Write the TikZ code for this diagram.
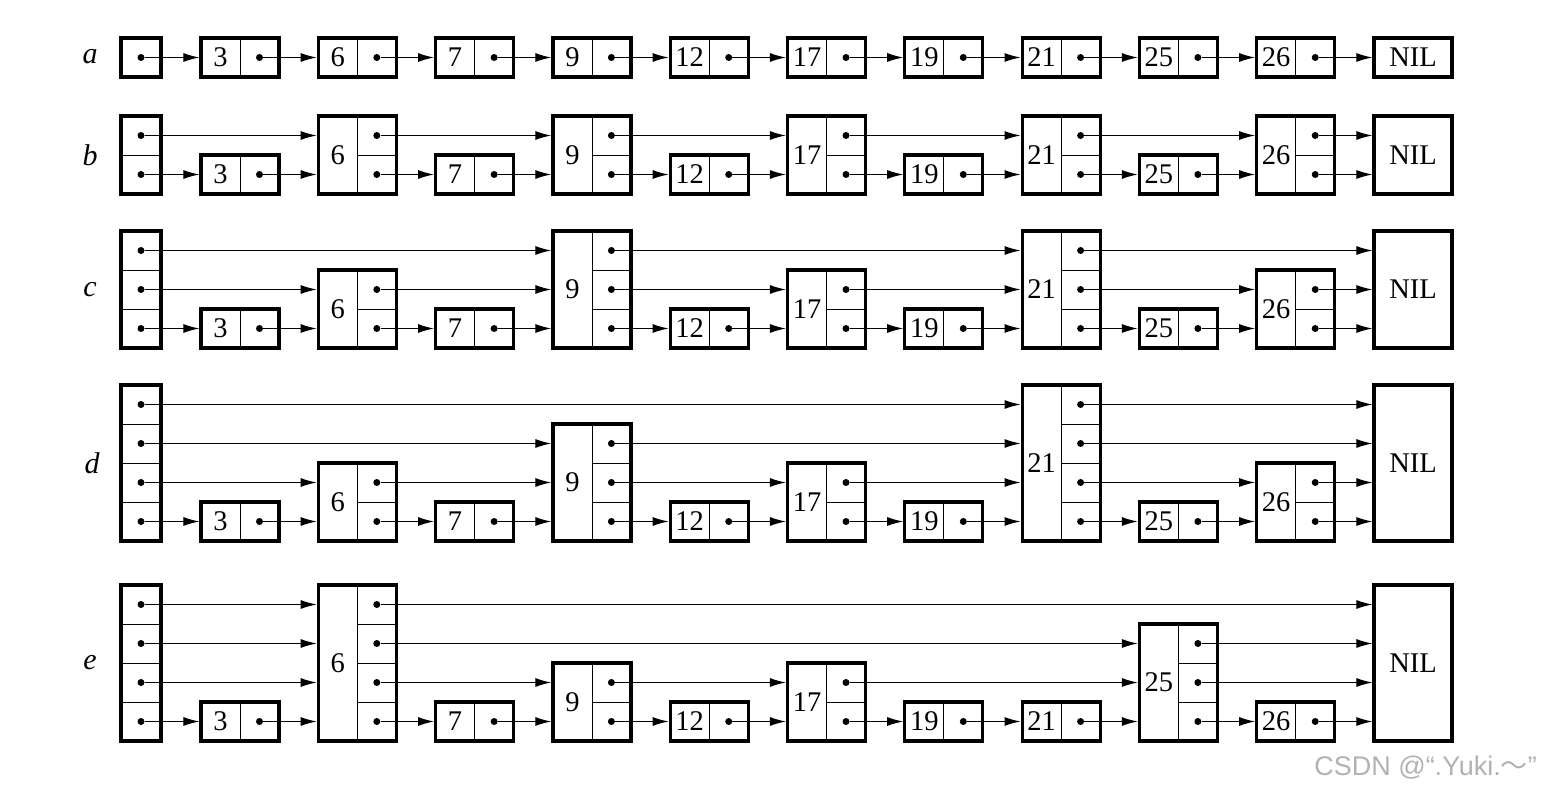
\documentclass[tikz,border=0pt]{standalone}
\usepackage{fontspec}
\setmainfont{Liberation Serif}
\newfontfamily\wmfont{Liberation Sans}
\newfontfamily\wmcjk{Noto Sans CJK SC}
\usetikzlibrary{arrows.meta}
\tikzset{
  box/.style={draw, line width=3.2pt, inner sep=0pt, outer sep=0pt, anchor=south west},
  div/.style={line width=0.8pt},
  ptr/.style={line width=1.1pt, -{Latex[length=16pt,width=9pt]}},
  dot/.style={circle, fill, inner sep=0pt, minimum size=7pt},
  val/.style={inner sep=0pt, font=\fontsize{28.5}{32}\selectfont},
  lbl/.style={inner sep=0pt, font=\fontsize{30}{34}\selectfont\itshape},
}
% value node: row, key, x, levels, ybottom
\newcommand\slvalnode[5]{%
  \pgfmathsetmacro\hh{#4*39}%
  \node[box, minimum width=78pt, minimum height=\hh pt] (#1-#2) at (#3,#5) {};
  \draw[div] (#3+39,#5) -- (#3+39,#5-\hh);
  \node[val] (#1-#2-v) at (#3+19.5,#5-\hh/2) {#2};
  \foreach \k in {1,...,#4}{%
    \coordinate (#1-#2-in\k) at (#3-1.6,#5-\k*39+19.5);
    \node[dot] (#1-#2-\k) at (#3+58.5,#5-\k*39+19.5) {};
    \ifnum\k<#4 \draw[div] (#3+39,#5-\k*39) -- (#3+78,#5-\k*39);\fi
  }%
}
% header: row, levels, ybottom
\newcommand\slhdrnode[3]{%
  \pgfmathsetmacro\hh{#2*39}%
  \node[box, minimum width=40pt, minimum height=\hh pt] (#1-H) at (121,#3) {};
  \foreach \k in {1,...,#2}{%
    \node[dot] (#1-H-\k) at (141,#3-\k*39+19.5) {};
    \ifnum\k<#2 \draw[div] (121,#3-\k*39) -- (161,#3-\k*39);\fi
  }%
}
% NIL: row, levels, ybottom
\newcommand\slnilnode[3]{%
  \pgfmathsetmacro\hh{#2*39}%
  \node[box, minimum width=78pt, minimum height=\hh pt] (#1-NIL) at (1374,#3) {};
  \node[val] (#1-NIL-v) at (1413,#3-\hh/2) {NIL};
  \foreach \k in {1,...,#2}{%
    \coordinate (#1-NIL-in\k) at (1372.4,#3-\k*39+19.5);
  }%
}
% a row: row, ybottom, list key/level
\newcommand\slrow[3]{%
  \foreach \v/\l [count=\i] in {#3}{%
    \pgfmathsetmacro\xx{201+(\i-1)*117.3}%
    \slvalnode{#1}{\v}{\xx}{\l}{#2}%
  }%
}
% chain of pointers: row, level, list of targets
\newcommand\slchain[3]{%
  \foreach \t [remember=\t as \p (initially H)] in {#3}{%
    \draw[ptr] (#1-\p-#2) -- (#1-\t-in#2);
  }%
}
\begin{document}
\begin{tikzpicture}[x=1pt,y=-1pt]
\useasboundingbox (0,0) rectangle (1545,794);
% labels
\node[lbl] (la) at (90,57) {a};
\node[lbl] (lb) at (90,155) {b};
\node[lbl] (lc) at (90,290) {c};
\node[lbl] (ld) at (92,463) {d};
\node[lbl] (le) at (90,663) {e};
% row a
\slhdrnode{a}{1}{77}
\slrow{a}{77}{3/1,6/1,7/1,9/1,12/1,17/1,19/1,21/1,25/1,26/1}
\slnilnode{a}{1}{77}
\slchain{a}{1}{3,6,7,9,12,17,19,21,25,26,NIL}
% row b
\slhdrnode{b}{2}{194}
\slrow{b}{194}{3/1,6/2,7/1,9/2,12/1,17/2,19/1,21/2,25/1,26/2}
\slnilnode{b}{2}{194}
\slchain{b}{1}{3,6,7,9,12,17,19,21,25,26,NIL}
\slchain{b}{2}{6,9,17,21,26,NIL}
% row c
\slhdrnode{c}{3}{348}
\slrow{c}{348}{3/1,6/2,7/1,9/3,12/1,17/2,19/1,21/3,25/1,26/2}
\slnilnode{c}{3}{348}
\slchain{c}{1}{3,6,7,9,12,17,19,21,25,26,NIL}
\slchain{c}{2}{6,9,17,21,26,NIL}
\slchain{c}{3}{9,21,NIL}
% row d
\slhdrnode{d}{4}{541}
\slrow{d}{541}{3/1,6/2,7/1,9/3,12/1,17/2,19/1,21/4,25/1,26/2}
\slnilnode{d}{4}{541}
\slchain{d}{1}{3,6,7,9,12,17,19,21,25,26,NIL}
\slchain{d}{2}{6,9,17,21,26,NIL}
\slchain{d}{3}{9,21,NIL}
\slchain{d}{4}{21,NIL}
% row e
\slhdrnode{e}{4}{741}
\slrow{e}{741}{3/1,6/4,7/1,9/2,12/1,17/2,19/1,21/1,25/3,26/1}
\slnilnode{e}{4}{741}
\slchain{e}{1}{3,6,7,9,12,17,19,21,25,26,NIL}
\slchain{e}{2}{6,9,17,25,NIL}
\slchain{e}{3}{6,25,NIL}
\slchain{e}{4}{6,NIL}
% watermark
\node[inner sep=0pt, anchor=east, text=black!30, font=\fontsize{27}{31}\selectfont\wmfont] (wm) at (1537,768) {CSDN @“.Yuki.{\wmcjk ～}”};
\end{tikzpicture}
\end{document}
